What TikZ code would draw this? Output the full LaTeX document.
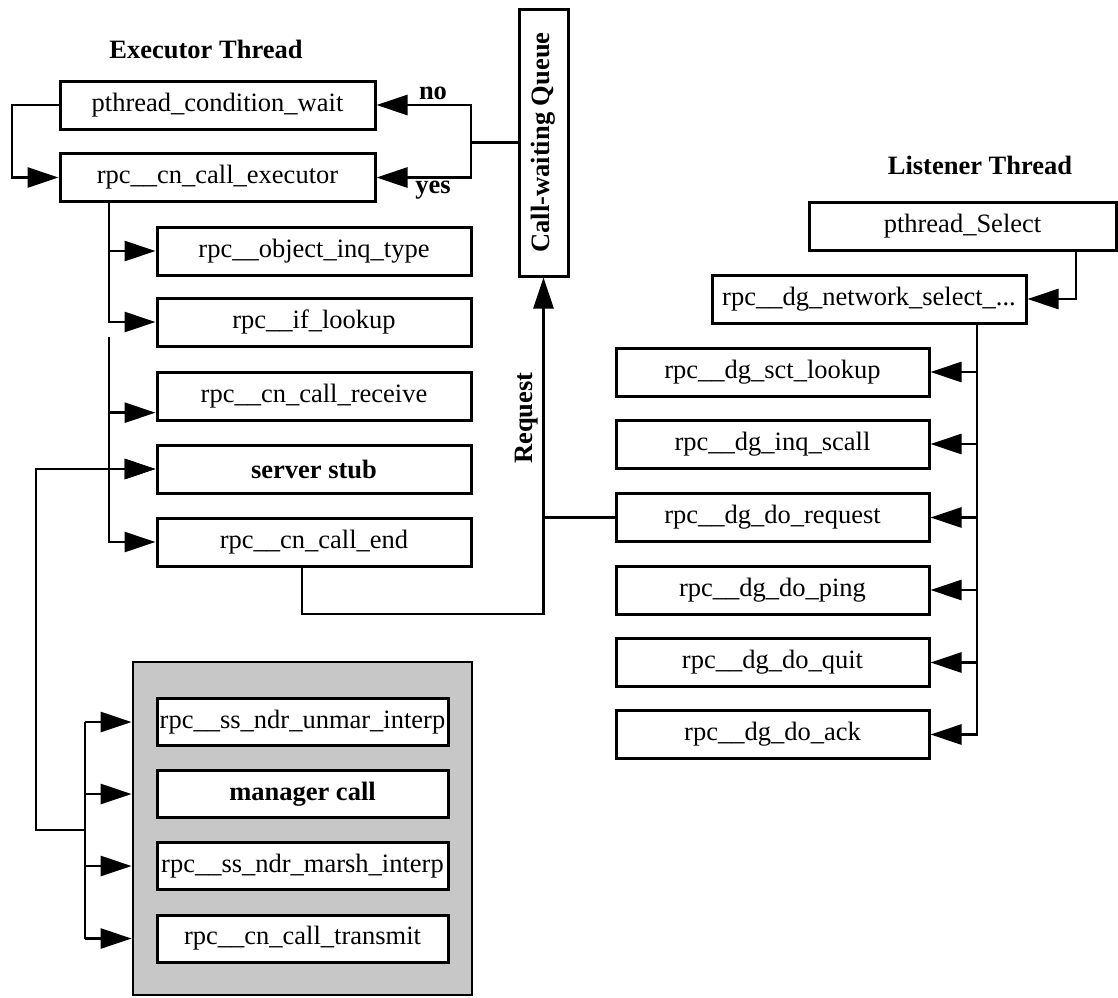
\documentclass[tikz,border=0pt]{standalone}
\usepackage{fontspec}
\setmainfont{Liberation Serif}
\usetikzlibrary{arrows.meta}
\begin{document}
\begin{tikzpicture}[x=1pt,y=-1pt,
  txt/.style={font=\fontsize{26.5}{30}\selectfont},
  box/.style={txt, draw, line width=3pt, fill=white, minimum height=48pt, inner xsep=1pt, inner ysep=0pt},
  lbl/.style={font=\fontsize{26.5}{30}\selectfont\bfseries, inner sep=0pt},
  conn/.style={line width=2.7pt},
  arr/.style={conn, -{Triangle[length=31pt,width=20pt]}},
  shadebox/.style={draw, line width=2.8pt, fill=black!22}
  ]
\useasboundingbox (0,0) rectangle (1118,997);

% ---------- Executor thread ----------
\node[lbl] (exth) at (206,49) {Executor Thread};
\node[box, minimum width=315pt] (pcw) at (217.5,105) {pthread\_condition\_wait};
\node[box, minimum width=315pt] (exe) at (217.5,177.5) {rpc\_\_cn\_call\_executor};
\node[box, minimum width=314pt] (obj) at (314,251) {rpc\_\_object\_inq\_type};
\node[box, minimum width=314pt] (ifl) at (314,322) {rpc\_\_if\_lookup};
\node[box, minimum width=314pt] (rcv) at (314,396) {rpc\_\_cn\_call\_receive};
\node[box, minimum width=314pt, font=\fontsize{26.5}{30}\selectfont\bfseries] (stub) at (314,469) {server stub};
\node[box, minimum width=314pt] (cend) at (314,542) {rpc\_\_cn\_call\_end};

% ---------- Call-waiting queue ----------
\node[box, minimum width=49pt, minimum height=267pt, font=\fontsize{26.5}{30}\selectfont\bfseries] (queue) at (543.5,142.5) {\rotatebox{90}{Call-waiting Queue}};
\node[lbl] (no) at (433,93) {no};
\node[lbl] (yes) at (433,190) {yes};
\node[lbl, rotate=90] (reqlbl) at (527,418) {Request};

% ---------- Listener thread ----------
\node[lbl] (lth) at (980,165) {Listener Thread};
\node[box, minimum width=307pt] (sel) at (962.5,226) {pthread\_Select};
\node[box, minimum width=314pt] (net) at (869,299) {rpc\_\_dg\_network\_select\_...};
\node[box, minimum width=313pt] (sct) at (772.5,372) {rpc\_\_dg\_sct\_lookup};
\node[box, minimum width=313pt] (inq) at (772.5,444) {rpc\_\_dg\_inq\_scall};
\node[box, minimum width=313pt] (req) at (772.5,517.5) {rpc\_\_dg\_do\_request};
\node[box, minimum width=313pt] (ping) at (772.5,590) {rpc\_\_dg\_do\_ping};
\node[box, minimum width=313pt] (quit) at (772.5,662.5) {rpc\_\_dg\_do\_quit};
\node[box, minimum width=313pt] (ack) at (772.5,734.5) {rpc\_\_dg\_do\_ack};

% ---------- Shaded group ----------
\node[shadebox, minimum width=339pt, minimum height=333pt] (shade) at (302.5,828.5) {};
\node[box, minimum width=291pt, minimum height=47pt] (unm) at (302.5,722) {rpc\_\_ss\_ndr\_unmar\_interp};
\node[box, minimum width=291pt, minimum height=47pt, font=\fontsize{26.5}{30}\selectfont\bfseries] (mgr) at (302.5,794) {manager call};
\node[box, minimum width=291pt, minimum height=47pt] (msh) at (302.5,866) {rpc\_\_ss\_ndr\_marsh\_interp};
\node[box, minimum width=291pt, minimum height=47pt] (trn) at (302.5,938.5) {rpc\_\_cn\_call\_transmit};

% ---------- helper coordinates ----------
\coordinate (loopx) at (12,105);
\coordinate (jq) at (471,143);
\coordinate (trA) at (109,202);
\coordinate (trB) at (109,337);
\coordinate (endx) at (302,614);
\coordinate (selx) at (1076,250);
\coordinate (netx) at (977,323);
\coordinate (lx) at (36,830);
\coordinate (bj) at (85,830);

% ---------- connectors: executor ----------
\draw[arr] (pcw.west) -- (loopx) |- (exe.west);
\draw[conn] (queue.west) -- (queue.west -| jq);
\draw[arr] (queue.west -| jq) |- (pcw.east);
\draw[arr] (queue.west -| jq) |- (exe.east);
\draw[arr] (exe.south -| trA) |- (ifl.west);
\draw[arr] (obj.west -| trA) -- (obj.west);
\draw[arr] (trB) |- (cend.west);
\draw[arr] (rcv.186 -| trB) -- (rcv.186);
\draw[arr] (bj) -- (lx) |- (stub.west);
\draw[arr] (stub.west -| trB) -- (stub.west);

% ---------- connectors: shaded group ----------
\draw[conn] (unm -| bj) -- (trn -| bj);
\draw[arr] (unm -| bj) -- (unm -| shade.west);
\draw[arr] (mgr -| bj) -- (mgr -| shade.west);
\draw[arr] (msh -| bj) -- (msh -| shade.west);
\draw[arr] (trn -| bj) -- (trn -| shade.west);

% ---------- connectors: request path ----------
\draw[arr] (cend.south -| endx) -- (endx) -- (endx -| queue.south) -- (queue.south);
\draw[conn] (req.west) -- (req.west -| queue.south);

% ---------- connectors: listener ----------
\draw[arr] (sel.south -| selx) |- (net.east);
\draw[arr] (net.south -| netx) |- (ack.east);
\draw[arr] (sct.east -| netx) -- (sct.east);
\draw[arr] (inq.east -| netx) -- (inq.east);
\draw[arr] (req.east -| netx) -- (req.east);
\draw[arr] (ping.east -| netx) -- (ping.east);
\draw[arr] (quit.east -| netx) -- (quit.east);
\end{tikzpicture}
\end{document}
